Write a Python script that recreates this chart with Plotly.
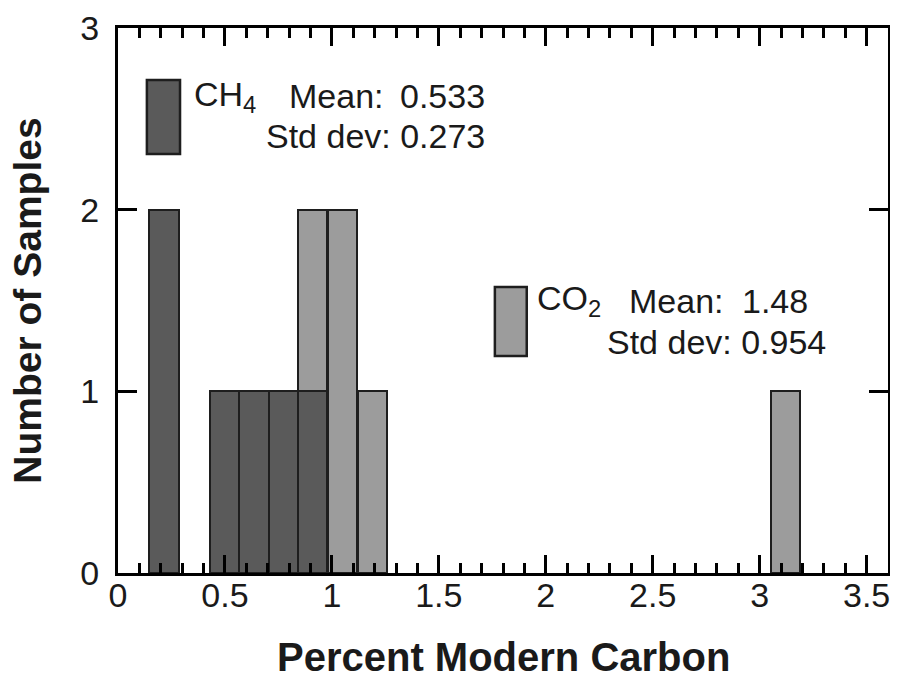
import plotly.graph_objects as go

# ---- data ----
ch4_centers = [0.215, 0.50, 0.635, 0.775, 0.91]
ch4_counts = [2, 1, 1, 1, 1]
co2_centers = [0.91, 1.05, 1.19, 3.12]
co2_counts = [2, 2, 1, 1]
bin_width = 0.138

ch4_mean, ch4_std = "0.533", "0.273"
co2_mean, co2_std = "1.48", "0.954"

x_ticks = [0, 0.5, 1, 1.5, 2, 2.5, 3, 3.5]
x_tick_text = ["0", "0.5", "1", "1.5", "2", "2.5", "3", "3.5"]
y_ticks = [0, 1, 2, 3]

DARK = "#5a5a5a"
LIGHT = "#9c9c9c"
EDGE = "#1e1e1e"
TXT = "#1a1a1a"
FONT = "Liberation Sans, Arial, Helvetica, sans-serif"

fig = go.Figure()
fig.add_trace(go.Bar(x=co2_centers, y=co2_counts, width=[bin_width] * len(co2_centers),
                     marker=dict(color=LIGHT, line=dict(color=EDGE, width=2)), showlegend=False))
fig.add_trace(go.Bar(x=ch4_centers, y=ch4_counts, width=[bin_width] * len(ch4_centers),
                     marker=dict(color=DARK, line=dict(color=EDGE, width=2)), showlegend=False))

# legend boxes
fig.add_shape(type="rect", xref="x", yref="y", x0=0.135, x1=0.29, y0=2.306, y1=2.714,
              fillcolor=DARK, line=dict(color=EDGE, width=2.5))
fig.add_shape(type="rect", xref="x", yref="y", x0=1.762, x1=1.911, y0=1.194, y1=1.574,
              fillcolor=LIGHT, line=dict(color=EDGE, width=2.5))

lf = dict(family=FONT, size=34, color=TXT)
def ann(text, x, y, xa):
    fig.add_annotation(text=text, x=x, y=y, xref="x", yref="y", xanchor=xa, yanchor="middle",
                       showarrow=False, font=lf)

ann("CH<sub>4</sub>", 0.346, 2.623, "left")
ann("Mean:", 0.790, 2.623, "left")
ann(ch4_mean, 1.724, 2.623, "right")
ann("Std dev: " + ch4_std, 1.724, 2.403, "right")
ann("CO<sub>2</sub>", 1.949, 1.500, "left")
ann("Mean:", 2.379, 1.500, "left")
ann(co2_mean, 3.234, 1.500, "right")
ann("Std dev: " + co2_std, 3.318, 1.269, "right")

# axis titles
fig.add_annotation(text="<b>Percent Modern Carbon</b>", xref="paper", yref="paper", x=0.5, y=-0.155,
                   xanchor="center", yanchor="middle", showarrow=False,
                   font=dict(family=FONT, size=40, color=TXT))
fig.add_annotation(text="<b>Number of Samples</b>", xref="paper", yref="paper", x=-0.118, y=0.5,
                   xanchor="center", yanchor="middle", textangle=-90, showarrow=False,
                   font=dict(family=FONT, size=39, color=TXT))

fig.update_layout(
    width=890, height=666,
    margin=dict(l=110, r=10, t=20, b=101),
    paper_bgcolor="white", plot_bgcolor="white",
    barmode="overlay", bargap=0,
    font=dict(family=FONT, size=34, color=TXT),
)
fig.update_xaxes(range=[0, 3.6], tickvals=x_ticks, ticktext=x_tick_text, automargin=False,
                 showline=True, linecolor="black", linewidth=3, mirror="allticks",
                 ticks="inside", ticklen=18, tickwidth=3, tickcolor="black",
                 showgrid=False, zeroline=False, ticklabelstandoff=-10,
                 tickfont=dict(family=FONT, size=34, color=TXT),
                 minor=dict(dtick=0.1, tick0=0, ticks="inside", ticklen=10, tickwidth=3,
                            tickcolor="black", showgrid=False))
fig.update_yaxes(range=[0, 3], tickvals=y_ticks, automargin=False,
                 showline=True, linecolor="black", linewidth=3, mirror="allticks",
                 ticks="inside", ticklen=19, tickwidth=3, tickcolor="black",
                 showgrid=False, zeroline=False, ticklabelstandoff=9,
                 tickfont=dict(family=FONT, size=34, color=TXT))

fig.write_html("out.html")
